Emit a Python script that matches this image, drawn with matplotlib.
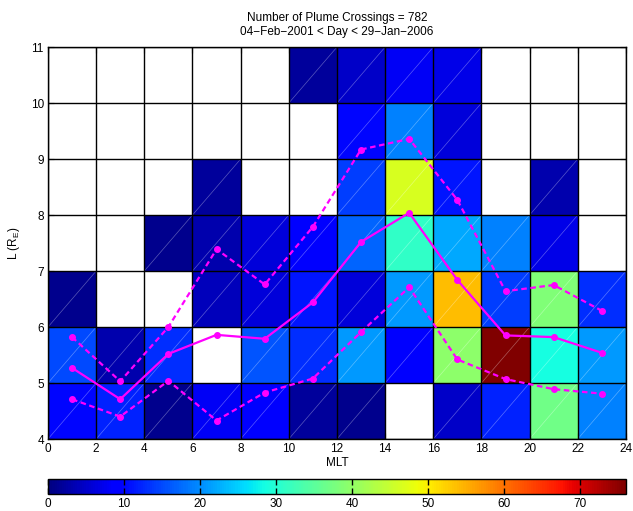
import numpy as np
import matplotlib
matplotlib.use("Agg")
import matplotlib.pyplot as plt
from matplotlib.collections import LineCollection

plt.rcParams['font.family'] = ['Liberation Sans', 'DejaVu Sans']
plt.rcParams['mathtext.default'] = 'regular'
plt.rcParams['font.size'] = 8.5

# bin edges
mlt_edges = np.arange(0, 25, 2)
l_edges = np.arange(4, 12, 1)
mlt_centers = np.arange(1, 24, 2)

# plume crossing counts per (L, MLT) bin, rows L=4..10, nan = no crossings
counts = np.array([
  [10, 12, 1, 8, 9, 2, 1, np.nan, 5, 12, 37, 19],
  [15, 3, 13, np.nan, 16, 13, 21, 9, 39.5, 76, 28.5, 21],
  [1, np.nan, np.nan, 4, 6, 11, 6, 21, 54, 14, 38.5, 13],
  [np.nan, np.nan, 1, 3, 6, 9, 17, 31, 22, 19, 7, np.nan],
  [np.nan, np.nan, np.nan, 2, np.nan, np.nan, 14, 46.5, 11, np.nan, 3, np.nan],
  [np.nan, np.nan, np.nan, np.nan, np.nan, np.nan, 10, 19, 6, np.nan, np.nan, np.nan],
  [np.nan, np.nan, np.nan, np.nan, np.nan, 2, 5, 8, 7, np.nan, np.nan, np.nan],
])

# median and quartile L of the plume per MLT bin
median_l = [5.27, 4.71, 5.52, 5.86, 5.79, 6.44, 7.52, 8.04, 6.84, 5.85, 5.82, 5.54]
upper_l = [5.82, 5.03, 6.00, 7.39, 6.76, 7.79, 9.17, 9.36, 8.27, 6.64, 6.75, 6.29]
lower_l = [4.71, 4.40, 5.04, 4.33, 4.83, 5.08, 5.91, 6.71, 5.42, 5.07, 4.89, 4.81]

n_crossings = 782
vmax = 76

fig = plt.figure(figsize=(6.33, 5.11), dpi=100)
ax = fig.add_axes([0.0758, 0.1409, 0.913, 0.767])

data = np.ma.masked_invalid(counts)
mesh = ax.pcolormesh(mlt_edges, l_edges, data, cmap='jet', vmin=0, vmax=vmax,
                     edgecolors='none')

# faint diagonal seams across filled cells
segs = []
for i in range(counts.shape[0]):
  for j in range(counts.shape[1]):
    if not np.isnan(counts[i, j]):
      segs.append([(mlt_edges[j], l_edges[i]), (mlt_edges[j + 1], l_edges[i + 1])])
ax.add_collection(LineCollection(segs, colors='white', linewidths=0.5, alpha=0.35, zorder=2))

ax.set_xticks(mlt_edges)
ax.set_yticks(l_edges)
ax.grid(True, color='k', linewidth=1.0)
ax.set_axisbelow(False)
ax.set_xlim(0, 24)
ax.set_ylim(4, 11)

style = dict(color='magenta', lw=1.6, marker='o', ms=4, zorder=5)
ax.plot(mlt_centers, median_l, **style)
ax.plot(mlt_centers, upper_l, ls='--', dashes=(2.5, 1.6), **style)
ax.plot(mlt_centers, lower_l, ls='--', dashes=(2.5, 1.6), **style)

ax.tick_params(direction='in', top=True, right=True, length=4, pad=3)
ax.set_xlabel('MLT', labelpad=1)
ax.set_ylabel('L (R$_E$)', labelpad=6)
ax.set_title('Number of Plume Crossings = %d\n04\u2212Feb\u22122001 < Day < 29\u2212Jan\u22122006' % n_crossings,
             fontsize=8.5, pad=9, linespacing=1.15)
for s in ax.spines.values():
  s.set_linewidth(1.0)

cax = fig.add_axes([0.0758, 0.0333, 0.913, 0.030])
cb = fig.colorbar(mesh, cax=cax, orientation='horizontal', ticks=np.arange(0, 71, 10))
cb.ax.tick_params(direction='in', top=True, bottom=True, length=4, width=1, pad=3)
cb.outline.set_linewidth(1.0)

fig.savefig('out.png', dpi=100)
